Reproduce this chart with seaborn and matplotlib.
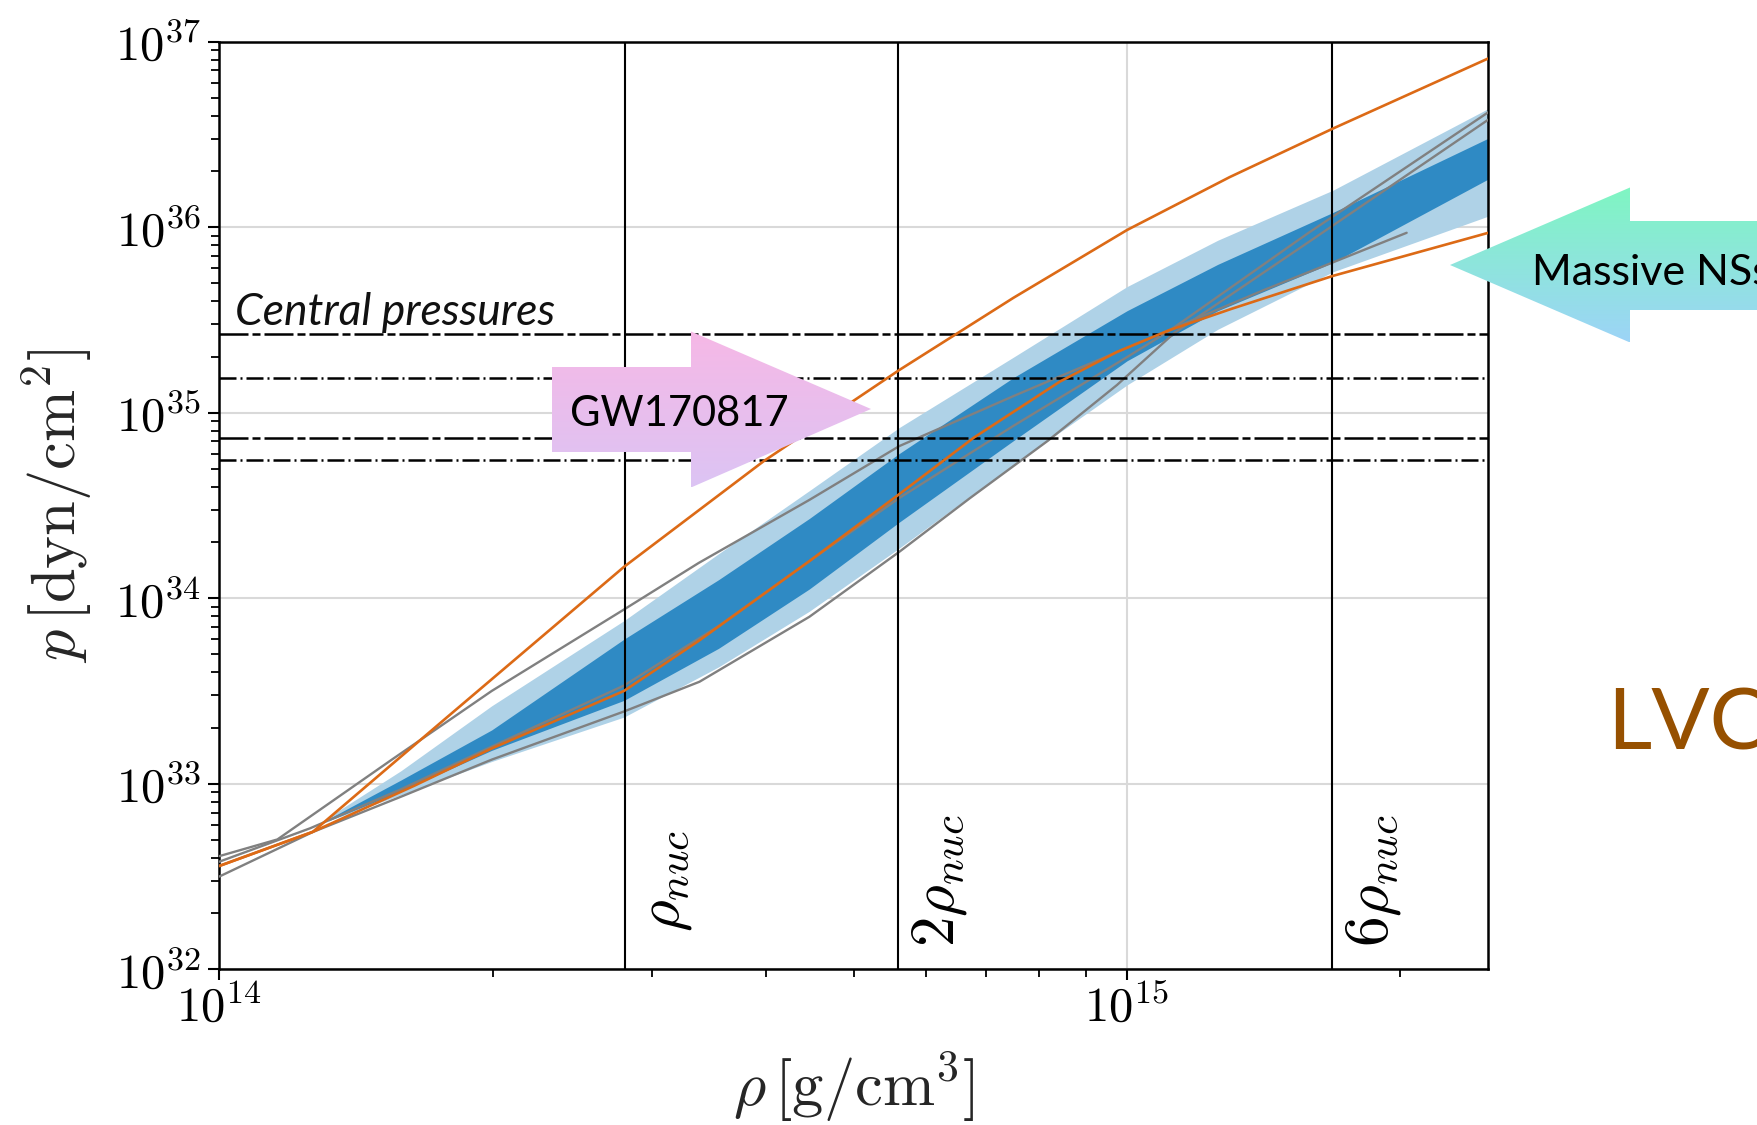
import numpy as np
import pandas as pd
import matplotlib
matplotlib.use("Agg")
import matplotlib.pyplot as plt
import matplotlib.transforms as mtransforms
from matplotlib.patches import Polygon
from matplotlib.ticker import FuncFormatter, NullFormatter, LogLocator
import seaborn as sns

# ---------------- data (log10 values) ----------------
# x: log10(rho [g/cm^3]), y: log10(p [dyn/cm^2])
band_logrho = [14.12, 14.20, 14.30, 14.446, 14.55, 14.65, 14.749, 14.875, 15.0, 15.1, 15.227, 15.398]
band90_lo = [32.80, 32.94, 33.12, 33.36, 33.63, 33.93, 34.27, 34.72, 35.15, 35.45, 35.76, 36.06]
band50_lo = [32.80, 32.96, 33.18, 33.45, 33.73, 34.05, 34.41, 34.85, 35.28, 35.55, 35.81, 36.26]
band50_hi = [32.81, 33.02, 33.29, 33.78, 34.10, 34.43, 34.78, 35.19, 35.55, 35.80, 36.08, 36.48]
band90_hi = [32.82, 33.07, 33.42, 33.88, 34.24, 34.58, 34.92, 35.30, 35.68, 35.93, 36.20, 36.64]

stiff_logrho = [14.0, 14.103, 14.25, 14.446, 14.6, 14.749, 14.875, 15.0, 15.113, 15.226, 15.398]
stiff_logp = [32.557, 32.741, 33.355, 34.17, 34.74, 35.23, 35.62, 35.985, 36.27, 36.53, 36.91]

soft_logrho = [14.0, 14.103, 14.215, 14.30, 14.446, 14.528, 14.65, 14.749, 14.831, 14.926,
               14.989, 15.046, 15.115, 15.227, 15.398]
soft_logp = [32.557, 32.741, 32.99, 33.19, 33.501, 33.77, 34.20, 34.561, 34.865, 35.168,
             35.328, 35.444, 35.560, 35.738, 35.970]

gray1_logrho = [14.0, 14.064, 14.19, 14.30, 14.446, 14.528, 14.65, 14.749, 14.875, 15.0, 15.15, 15.308]
gray1_logp = [32.61, 32.70, 33.13, 33.50, 33.94, 34.19, 34.53, 34.82, 35.09, 35.35, 35.66, 35.97]

gray2_logrho = [14.0, 14.1, 14.2, 14.3, 14.446, 14.55, 14.65, 14.749, 14.875, 15.0, 15.046, 15.2, 15.398]
gray2_logp = [32.58, 32.76, 32.97, 33.20, 33.53, 33.85, 34.20, 34.54, 34.93, 35.30, 35.44, 35.97, 36.62]

gray3_logrho = [14.0, 14.103, 14.2, 14.3, 14.446, 14.529, 14.65, 14.749, 14.827, 14.913, 14.989,
                15.052, 15.2, 15.398]
gray3_logp = [32.50, 32.74, 32.93, 33.13, 33.39, 33.55, 33.90, 34.25, 34.54, 34.85, 35.15,
              35.43, 35.92, 36.58]

central_logp = [35.426, 35.185, 34.864, 34.746]
rho_nuc = 2.8e14
nuc_multiples = [1, 2, 6]
nuc_labels = [r"$\rho_{nuc}$", r"$2\rho_{nuc}$", r"$6\rho_{nuc}$"]

x_limits = (1e14, 2.5e15)
y_limits = (1e32, 1e37)

# ---------------- style ----------------
sns.set_theme(style="ticks")
plt.rcParams.update({
    "font.family": ["Lato", "DejaVu Sans"],
    "mathtext.fontset": "cm",
    "axes.edgecolor": "black",
    "axes.linewidth": 1.8,
    "xtick.color": "black", "ytick.color": "black",
    "xtick.major.size": 8, "xtick.minor.size": 5.5,
    "ytick.major.size": 8, "ytick.minor.size": 5.5,
    "xtick.major.width": 1.5, "xtick.minor.width": 1.3,
    "ytick.major.width": 1.5, "ytick.minor.width": 1.3,
})

W, H = 1758, 1125
fig = plt.figure(figsize=(W / 100, H / 100), dpi=100)
fig.patch.set_facecolor("white")
ax = fig.add_axes([219.3 / W, 1 - 969.3 / H, (1488.3 - 219.3) / W, (969.3 - 41.7) / H])
ax.set_xscale("log")
ax.set_yscale("log")
ax.set_xlim(*x_limits)
ax.set_ylim(*y_limits)

light_blue = "#afd2e7"
dark_blue = "#2f8ac4"
orange = "#dc6a16"
gray = "#808080"

rb = 10 ** np.array(band_logrho)
ax.fill_between(rb, 10 ** np.array(band90_lo), 10 ** np.array(band90_hi), color=light_blue, lw=0, zorder=1)
ax.fill_between(rb, 10 ** np.array(band50_lo), 10 ** np.array(band50_hi), color=dark_blue, lw=0, zorder=2)

for lx, ly in [(gray1_logrho, gray1_logp), (gray2_logrho, gray2_logp), (gray3_logrho, gray3_logp)]:
    df = pd.DataFrame({"rho": 10 ** np.array(lx), "p": 10 ** np.array(ly)})
    sns.lineplot(data=df, x="rho", y="p", ax=ax, color=gray, lw=1.7, sort=False,
                 estimator=None, zorder=3)

for lx, ly in [(stiff_logrho, stiff_logp), (soft_logrho, soft_logp)]:
    df = pd.DataFrame({"rho": 10 ** np.array(lx), "p": 10 ** np.array(ly)})
    sns.lineplot(data=df, x="rho", y="p", ax=ax, color=orange, lw=1.9, sort=False,
                 estimator=None, zorder=6)

dash_long = (0, (11.6, 1.6, 3.2, 1.6))
dash_dot = (0, (6.8, 1.6, 0.8, 1.6))
for i, v in enumerate(central_logp):
    ax.axhline(10 ** v, color="black", lw=1.8, ls=dash_long if i % 2 == 0 else dash_dot, zorder=5)

for m in nuc_multiples:
    ax.axvline(m * rho_nuc, color="black", lw=1.5, zorder=5)

trans = mtransforms.blended_transform_factory(ax.transData, ax.transAxes)
for m, lab, yb in zip(nuc_multiples, nuc_labels, [0.040, 0.024, 0.024]):
    t = mtransforms.offset_copy(trans, fig=fig, x=12, y=0, units="dots")
    ax.text(m * rho_nuc, yb, lab, transform=t, rotation=90, ha="left", va="bottom",
            fontsize=44, color="black", zorder=7)

ax.grid(True, which="major", color="#d9d9d9", lw=1.5)
ax.set_axisbelow(True)

fmt = FuncFormatter(lambda v, pos: r"$10^{%d}$" % int(round(np.log10(v))))
ax.xaxis.set_major_locator(LogLocator(base=10, numticks=20))
ax.yaxis.set_major_locator(LogLocator(base=10, numticks=20))
ax.xaxis.set_minor_locator(LogLocator(base=10, subs=np.arange(2, 10), numticks=50))
ax.yaxis.set_minor_locator(LogLocator(base=10, subs=np.arange(2, 10), numticks=50))
ax.xaxis.set_major_formatter(fmt)
ax.yaxis.set_major_formatter(fmt)
ax.xaxis.set_minor_formatter(NullFormatter())
ax.yaxis.set_minor_formatter(NullFormatter())
ax.tick_params(axis="both", which="major", labelsize=35)
ax.tick_params(axis="y", which="major", pad=5)
ax.tick_params(axis="x", which="major", pad=2)

ax.set_xlabel(r"$\rho\,[\mathrm{g/cm^3}]$", fontsize=45)
ax.set_ylabel(r"$p\,[\mathrm{dyn/cm^2}]$", fontsize=45)
ax.xaxis.set_label_coords(0.5, -0.087)
ax.yaxis.set_label_coords(-0.098, 0.5)

# ---------------- overlay (arrows and slide text) ----------------
ov = fig.add_axes([0, 0, 1, 1], facecolor="none")
ov.set_xlim(0, W)
ov.set_ylim(H, 0)
ov.axis("off")


def gradient_arrow(points, top_color, bottom_color):
    pts = np.array(points)
    poly = Polygon(pts, closed=True, facecolor="none", edgecolor="none")
    ov.add_patch(poly)
    c1 = np.array(matplotlib.colors.to_rgb(top_color))
    c2 = np.array(matplotlib.colors.to_rgb(bottom_color))
    tt = np.linspace(0, 1, 256)[:, None]
    img = (c1[None, :] * (1 - tt) + c2[None, :] * tt)[:, None, :]
    x0, x1 = pts[:, 0].min(), pts[:, 0].max()
    y0, y1 = pts[:, 1].min(), pts[:, 1].max()
    im = ov.imshow(img, extent=(x0, x1, y1, y0), aspect="auto", zorder=2, interpolation="bilinear")
    im.set_clip_path(poly)


gw_arrow = [(551.6, 367), (691, 367), (691, 331.5), (871, 409), (691, 487.5), (691, 452), (551.6, 452)]
gradient_arrow(gw_arrow, "#f6b8e6", "#dcc4f4")
ns_arrow = [(1770, 221), (1630, 221), (1630, 187.5), (1450, 265), (1630, 342.5), (1630, 310), (1770, 310)]
gradient_arrow(ns_arrow, "#7ff6c2", "#9dd4f7")
ov.set_xlim(0, W)
ov.set_ylim(H, 0)

ov.text(235, 325, "Central pressures", style="italic", fontsize=32, ha="left", va="baseline", color="#111111", zorder=5)
ov.text(570, 426, "GW170817", fontsize=30, ha="left", va="baseline", color="black", zorder=5)
ov.text(1532, 285, "Massive NSs", fontsize=31, ha="left", va="baseline", color="black", zorder=5)
ov.text(1607, 750, "LVC", fontsize=62, ha="left", va="baseline", color="#965000", zorder=5)

fig.savefig("out.png", dpi=100)
